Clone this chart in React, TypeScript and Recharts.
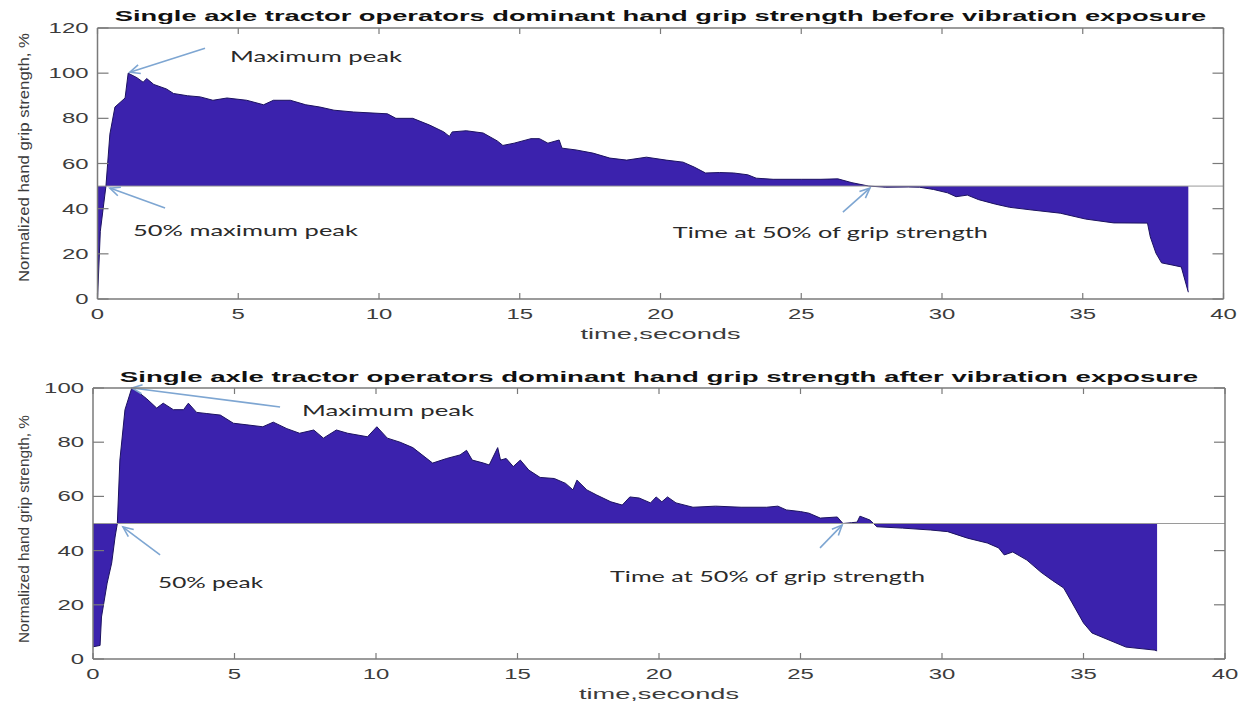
import { Area, ComposedChart, Label, ReferenceDot, ReferenceLine, XAxis, YAxis } from "recharts";

// axis ticks
const timeTicks = [0, 5, 10, 15, 20, 25, 30, 35, 40];
const beforeTicks = [0, 20, 40, 60, 80, 100, 120];
const afterTicks = [0, 20, 40, 60, 80, 100];

// grip strength before vibration exposure
const beforeTime = [
  0, 0.1, 0.3, 0.44, 0.62, 0.98, 1.09, 1.4, 1.62, 1.75, 2.0, 2.45, 2.7, 3.2, 3.65, 4.1, 4.6, 5.3, 5.9, 6.25,
  6.85, 7.4, 7.9, 8.4, 9.1, 10.3, 10.6, 11.2, 11.8, 12.3, 12.5, 12.6, 13.1, 13.7, 14.2, 14.4, 14.8, 15.4, 15.7, 16.0,
  16.4, 16.5, 17.0, 17.6, 18.2, 18.8, 19.5, 20.2, 20.8, 21.2, 21.6, 22.1, 22.6, 23.1, 23.4, 24.0, 25.0, 25.7, 26.3, 26.8,
  27.4, 28.0, 28.8, 29.2, 29.7, 30.2, 30.5, 30.9, 31.3, 31.9, 32.4, 33.2, 34.2, 35.1, 36.1, 37.3, 37.4, 37.6, 37.8, 38.2,
  38.5, 38.75,
];
const beforeGrip = [
  0, 30, 50, 73, 85, 89, 100, 98, 96, 97.6, 95, 93, 91, 90, 89.5, 88, 89, 88, 86, 88,
  88, 86, 85, 83.6, 82.8, 82, 80, 80, 77, 74, 72, 74, 74.5, 73.5, 70, 68, 69, 71, 71, 69,
  70.4, 66.8, 66, 64.6, 62.4, 61.5, 62.8, 61.5, 60.6, 58.4, 55.8, 56, 55.8, 55, 53.5, 53, 53, 53, 53.2, 51.5,
  50, 49.5, 49.6, 49.5, 48.5, 47, 45.3, 46, 44, 42, 40.6, 39.4, 38, 35.4, 33.7, 33.6, 27.5, 20.3, 16, 15,
  14.2, 3,
];

// grip strength after vibration exposure
const afterTime = [
  0, 0.25, 0.3, 0.5, 0.66, 0.78, 0.86, 0.95, 1.13, 1.37, 1.66, 1.9, 2.25, 2.48, 2.84, 3.2, 3.37, 3.66, 4.0, 4.5,
  4.96, 5.44, 6.0, 6.37, 6.85, 7.3, 7.8, 8.14, 8.6, 9.0, 9.7, 10.03, 10.4, 10.85, 11.3, 12.0, 12.5, 12.97, 13.2, 13.4,
  13.8, 14.0, 14.3, 14.4, 14.6, 14.85, 15.1, 15.4, 15.8, 16.3, 16.7, 16.96, 17.1, 17.45, 17.8, 18.3, 18.7, 18.97, 19.3, 19.7,
  19.9, 20.1, 20.3, 20.6, 21.2, 22.0, 22.9, 23.8, 24.2, 24.5, 25.0, 25.3, 25.7, 26.3, 26.5, 26.8, 27.0, 27.1, 27.45, 27.7,
  28.6, 29.6, 30.2, 30.9, 31.6, 32.0, 32.2, 32.5, 33.0, 33.5, 33.9, 34.3, 34.6, 35.0, 35.3, 35.9, 36.5, 37.5, 37.6,
];
const afterGrip = [
  4.5, 5, 15.5, 28, 35.4, 45, 50, 73.4, 92, 100, 98, 96, 92.6, 94.4, 92, 92, 94.4, 91, 90.6, 90,
  87, 86.4, 85.7, 87.4, 85, 83.3, 84.5, 81.5, 84.5, 83.3, 82, 85.7, 81.5, 80, 78, 72.3, 74, 75.3, 77, 73.4,
  72.3, 71.6, 78, 73.4, 74, 71, 73.4, 69.7, 67, 66.6, 64.8, 62.4, 66, 62.4, 60.5, 58, 56.8, 59.8, 59.4, 57.6,
  59.8, 58, 59.8, 57.6, 56, 56.4, 56, 56, 56.4, 55, 54.4, 53.8, 52, 52.4, 50, 50.3, 50.5, 52.7, 51.3, 48.8,
  48.3, 47.6, 47, 44.6, 42.8, 41, 38.4, 39.5, 36.5, 32, 29, 26.2, 20.7, 13.3, 9.6, 7, 4.4, 3.3, 3,
];

const beforeTitle = "Single axle tractor operators dominant hand grip strength before vibration exposure";
const afterTitle = "Single axle tractor operators dominant hand grip strength after vibration exposure";
const yLabel = "Normalized hand grip strength, %";
const xLabel = "time,seconds";

// annotations: text anchor (left, baseline) and arrow tail -> tip, in data units
const beforeNotes = [
  { text: "Maximum peak", at: [4.71, 104.9], len: 172, tail: [3.82, 111], tip: [1.15, 100.4] },
  { text: "50% maximum peak", at: [1.26, 27.9], len: 225, tail: [2.4, 40.3], tip: [0.44, 49.1] },
  { text: "Time at 50% of grip strength", at: [20.44, 27], len: 315, tail: [26.48, 38.5], tip: [27.44, 49.1] },
];
const afterNotes = [
  { text: "Maximum peak", at: [7.39, 89.7], len: 172, tail: [6.61, 93], tip: [1.38, 100] },
  { text: "50% peak", at: [2.3, 26.2], len: 105, tail: [2.37, 38.4], tip: [1.06, 48.7] },
  { text: "Time at 50% of grip strength", at: [18.27, 28.4], len: 315, tail: [25.69, 41], tip: [26.47, 49.4] },
];

const FILL = "#3b22ad";
const EDGE = "#1c1260";
const FRAME = "#7a7a7a";
const INK = "#3c3c3c";
const ARROW = "#7ea6d2";
const MATLAB_FONT = "'Liberation Sans', Arial, Helvetica, sans-serif";
const NOTE_FONT = "Lato, 'Open Sans', sans-serif";

const zip = (ts: number[], vs: number[]) => ts.map((t, i) => ({ t, v: vs[i] }));

function BottomTick({ x, y, payload }: any) {
  const s = String(payload.value);
  return (
    <g>
      <line x1={x} x2={x} y1={y} y2={y - 6} stroke={FRAME} strokeWidth={1.2} />
      <text x={x} y={y + 20} textAnchor="middle" fontSize={15} fontFamily={MATLAB_FONT} fill={INK}
        textLength={s.length * 13.3} lengthAdjust="spacingAndGlyphs">{s}</text>
    </g>
  );
}

function TopTick({ x, y }: any) {
  return <line x1={x} x2={x} y1={y} y2={y + 6} stroke={FRAME} strokeWidth={1.2} />;
}

function LeftTick({ x, y, payload }: any) {
  const s = String(payload.value);
  return (
    <g>
      <line x1={x} x2={x + 11} y1={y} y2={y} stroke={FRAME} strokeWidth={1.2} />
      <text x={x - 9} y={y + 5} textAnchor="end" fontSize={15} fontFamily={MATLAB_FONT} fill={INK}
        textLength={s.length * 13.3} lengthAdjust="spacingAndGlyphs">{s}</text>
    </g>
  );
}

// inward tick on the right frame, drawn from a full-width reference line
function rightTickShape(p: any) {
  const xr = Math.max(p.x1, p.x2);
  return <line x1={xr} x2={xr - 11} y1={p.y1} y2={p.y2} stroke={FRAME} strokeWidth={1.2} />;
}

function arrowShape(p: any) {
  const { x1, y1, x2, y2 } = p;
  const ang = Math.atan2(y2 - y1, x2 - x1);
  const head = 11;
  const a1 = ang + Math.PI - 0.42;
  const a2 = ang + Math.PI + 0.42;
  return (
    <g stroke={ARROW} strokeWidth={1.6} fill="none">
      <line x1={x1} y1={y1} x2={x2} y2={y2} />
      <polyline points={`${x2 + head * Math.cos(a1)},${y2 + head * Math.sin(a1)} ${x2},${y2} ${x2 + head * Math.cos(a2)},${y2 + head * Math.sin(a2)}`} />
    </g>
  );
}

type PanelProps = {
  data: { t: number; v: number }[];
  yTicks: number[];
  title: string;
  notes: typeof beforeNotes;
  height: number;
  top: number;
  bottom: number;
  left: number;
  right: number;
  titleY: number;
  yLabelLen: number;
  yLabelShift: number;
};

function Panel({ data, yTicks, title, notes, height, top, bottom, left, right, titleY, yLabelLen, yLabelShift }: PanelProps) {
  const plotLeft = left;
  const plotRight = 1244 - right;
  const plotTop = top;
  const plotBottom = height - bottom;
  const cx = (plotLeft + plotRight) / 2;
  const yMax = yTicks[yTicks.length - 1];

  return (
    <ComposedChart width={1244} height={height} data={data} margin={{ top: 0, right: 0, bottom: 0, left: 0 }}>
      <XAxis xAxisId={0} dataKey="t" type="number" domain={[0, 40]} ticks={timeTicks} interval={0}
        height={bottom} tickSize={0} tickMargin={0} tickLine={false} tick={<BottomTick />}
        axisLine={{ stroke: FRAME, strokeWidth: 1.5 }}>
        <Label content={() => (
          <text x={cx} y={plotBottom + 40} textAnchor="middle" fontSize={15} fontFamily={MATLAB_FONT} fill={INK}
            textLength={160} lengthAdjust="spacingAndGlyphs">{xLabel}</text>
        )} />
      </XAxis>
      <XAxis xAxisId="top" orientation="top" dataKey="t" type="number" domain={[0, 40]} ticks={timeTicks} interval={0}
        height={top} tickSize={0} tickMargin={0} tickLine={false} tick={<TopTick />}
        axisLine={{ stroke: FRAME, strokeWidth: 1.5 }}>
        <Label content={() => (
          <text x={cx} y={titleY} textAnchor="middle" fontSize={15.5} fontWeight="bold" fontFamily={MATLAB_FONT} fill="#111"
            textLength={title.length * 13.15} lengthAdjust="spacingAndGlyphs">{title}</text>
        )} />
      </XAxis>
      <YAxis yAxisId={0} type="number" domain={[0, yMax]} ticks={yTicks} interval={0} width={left}
        tickSize={0} tickMargin={0} tickLine={false} tick={<LeftTick />}
        axisLine={{ stroke: FRAME, strokeWidth: 1.5 }}>
        <Label content={() => {
          const lx = 23.5;
          const ly = (plotTop + plotBottom) / 2 + yLabelShift;
          return (
            <text x={lx} y={ly} transform={`rotate(-90 ${lx} ${ly})`} textAnchor="middle" dominantBaseline="central"
              fontSize={14} fontFamily="'Liberation Sans Narrow', 'Liberation Sans', Arial, sans-serif" fill={INK}
              textLength={yLabelLen} lengthAdjust="spacingAndGlyphs">{yLabel}</text>
          );
        }} />
      </YAxis>
      <YAxis yAxisId="right" orientation="right" type="number" domain={[0, yMax]} ticks={yTicks} width={right}
        tick={false} tickLine={false} axisLine={{ stroke: FRAME, strokeWidth: 1.5 }} />
      {yTicks.map((v) => (
        <ReferenceLine key={"rt" + v} xAxisId={0} yAxisId={0} y={v} shape={rightTickShape} />
      ))}
      <Area xAxisId={0} yAxisId={0} type="linear" dataKey="v" baseValue={50} fill={FILL} fillOpacity={1}
        stroke={EDGE} strokeWidth={1} isAnimationActive={false} dot={false} activeDot={false} />
      <ReferenceLine xAxisId={0} yAxisId={0} y={50} stroke="#9a9a9a" strokeWidth={1} />
      {notes.map((n) => (
        <ReferenceLine key={n.text + "-arrow"} xAxisId={0} yAxisId={0}
          segment={[{ x: n.tail[0], y: n.tail[1] }, { x: n.tip[0], y: n.tip[1] }]} shape={arrowShape} />
      ))}
      {notes.map((n) => (
        <ReferenceDot key={n.text} xAxisId={0} yAxisId={0} x={n.at[0]} y={n.at[1]}
          shape={(p: any) => (
            <text x={p.cx} y={p.cy} fontSize={16} fontFamily={NOTE_FONT} fill="#2a2a2a"
              textLength={n.len} lengthAdjust="spacingAndGlyphs">{n.text}</text>
          )} />
      ))}
    </ComposedChart>
  );
}

export default function App() {
  return (
    <div style={{ position: "absolute", left: 0, top: 0, width: 1244, height: 706, background: "#fff" }}>
      <div style={{ position: "absolute", left: 0, top: 0 }}>
        <Panel data={zip(beforeTime, beforeGrip)} yTicks={beforeTicks} title={beforeTitle} notes={beforeNotes}
          height={350} top={28} bottom={51} left={97.5} right={20.5} titleY={21} yLabelLen={249} yLabelShift={-6} />
      </div>
      <div style={{ position: "absolute", left: 0, top: 350 }}>
        <Panel data={zip(afterTime, afterGrip)} yTicks={afterTicks} title={afterTitle} notes={afterNotes}
          height={356} top={38} bottom={47} left={93} right={19} titleY={32} yLabelLen={228} yLabelShift={5.5} />
      </div>
    </div>
  );
}
